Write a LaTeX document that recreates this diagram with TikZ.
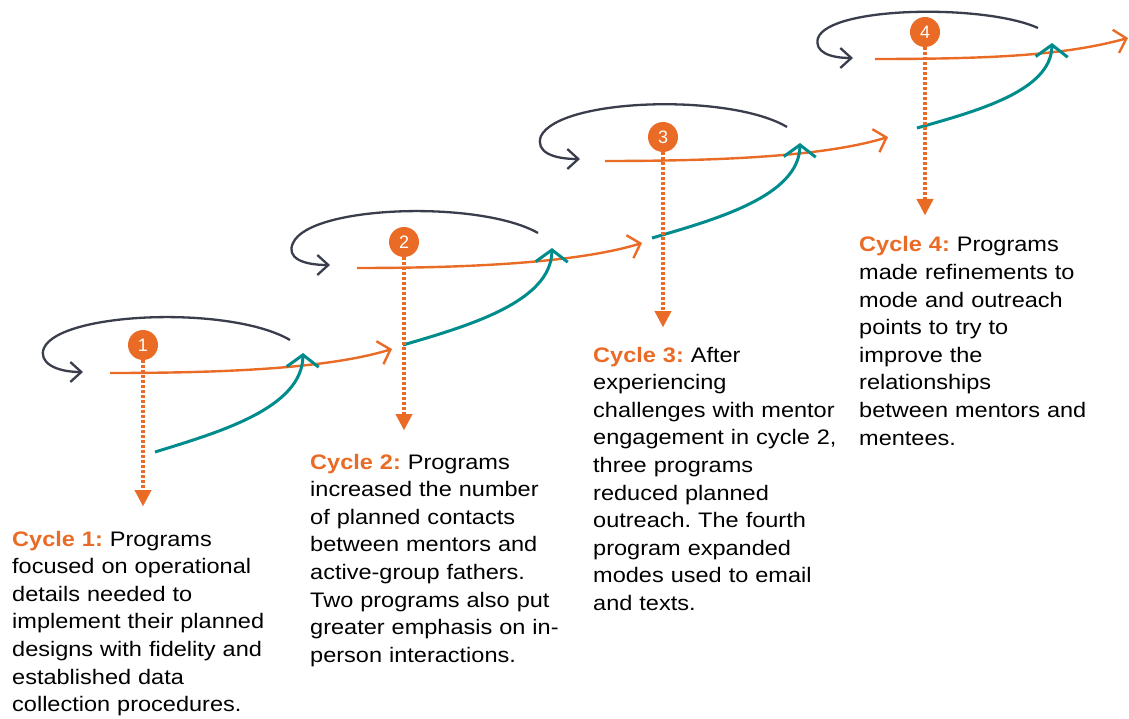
\documentclass[tikz,border=0pt]{standalone}
\usepackage{fontspec}
\setmainfont{Liberation Sans}[FakeStretch=1.12]
\newfontfamily\numfont{Liberation Sans}
\usetikzlibrary{arrows.meta}
\definecolor{cyorange}{RGB}{234,107,37}
\definecolor{cyteal}{RGB}{0,140,140}
\definecolor{cydark}{RGB}{58,62,76}
\frenchspacing
\tikzset{
  numcirc/.style={circle,fill=cyorange,minimum size=30pt,inner sep=0pt,text=white,font=\numfont\fontsize{18}{18}\selectfont},
  desc/.style={text width=300pt,align=left,anchor=base west,inner sep=0pt,font=\fontsize{21}{27.6}\selectfont\frenchspacing},
  dotarrow/.style={cyorange,line width=4pt,dash pattern=on 3pt off 2pt,-{Triangle[length=16pt,width=17pt,line width=0.1pt]}},
  looparc/.style={cydark,line width=2.3pt,-{Straight Barb[length=11pt,width=20pt,line width=2.3pt]}},
  fwdarrow/.style={cyorange,line width=2.4pt,-{Straight Barb[length=11pt,width=24pt,line width=2.4pt]}},
  riser/.style={cyteal,line width=3pt,-{Straight Barb[length=12pt,width=32pt,line width=3pt]}},
}
\newcommand{\cyhead}[1]{\textcolor{cyorange}{\bfseries Cycle #1:}}
\begin{document}
\begin{tikzpicture}[x=1pt,y=-1pt]
\useasboundingbox (0,0) rectangle (1129,719);
\fill[white] (0,0) rectangle (1129,719);

% ---------- Cycle 1 ----------
\draw[looparc] (290,340) .. controls (230,305) and (60,312) .. (44,348) .. controls (38,362) and (55,372) .. (83,372);
\draw[fwdarrow] (110,373) .. controls (230,373) and (330,368) .. (392,349);
\draw[riser] (155,452) .. controls (220,432) and (302,408) .. (303,353);
\node[numcirc] (c1) at (143,345) {1};
\coordinate (d1) at (143,506);
\draw[dotarrow] (c1.south) -- (d1);
\node[desc] (t1) at (12,546) {\cyhead{1} Programs\\ focused on operational\\ details needed to\\ implement their planned\\ designs with fidelity and\\ established data\\ collection procedures.};

% ---------- Cycle 2 ----------
\draw[looparc] (538,233) .. controls (480,200) and (310,205) .. (293,243) .. controls (286,258) and (303,265) .. (330,265);
\draw[fwdarrow] (357,268) .. controls (477,268) and (580,262) .. (642,243);
\draw[riser] (403,345) .. controls (468,326) and (551,302) .. (552,248);
\node[numcirc] (c2) at (404,242) {2};
\coordinate (d2) at (404,430);
\draw[dotarrow] (c2.south) -- (d2);
\node[desc] (t2) at (310,469) {\cyhead{2} Programs\\ increased the number\\ of planned contacts\\ between mentors and\\ active-group fathers.\\ Two programs also put\\ greater emphasis on in-\\ person interactions.};

% ---------- Cycle 3 ----------
\draw[looparc] (787,127) .. controls (730,93) and (560,98) .. (541,136) .. controls (535,152) and (553,159) .. (580,159);
\draw[fwdarrow] (605,161) .. controls (725,161) and (826,156) .. (888,137);
\draw[riser] (652,238) .. controls (717,219) and (799,196) .. (800,143);
\node[numcirc] (c3) at (663,137) {3};
\coordinate (d3) at (663,327);
\draw[dotarrow] (c3.south) -- (d3);
\node[desc] (t3) at (593,362) {\cyhead{3} After\\ experiencing\\ challenges with mentor\\ engagement in cycle 2,\\ three programs\\ reduced planned\\ outreach. The fourth\\ program expanded\\ modes used to email\\ and texts.};

% ---------- Cycle 4 ----------
\draw[looparc] (1038,28) .. controls (985,4) and (830,6) .. (818,38) .. controls (814,52) and (830,58) .. (853,58);
\draw[fwdarrow] (875,59) .. controls (995,59) and (1066,55) .. (1128,38);
\draw[riser] (917,128) .. controls (977,111) and (1051,91) .. (1052,43);
\node[numcirc] (c4) at (925,32) {4};
\coordinate (d4) at (925,215);
\draw[dotarrow] (c4.south) -- (d4);
\node[desc] (t4) at (859,252) {\cyhead{4} Programs\\ made refinements to\\ mode and outreach\\ points to try to\\ improve the\\ relationships\\ between mentors and\\ mentees.};
\end{tikzpicture}
\end{document}
